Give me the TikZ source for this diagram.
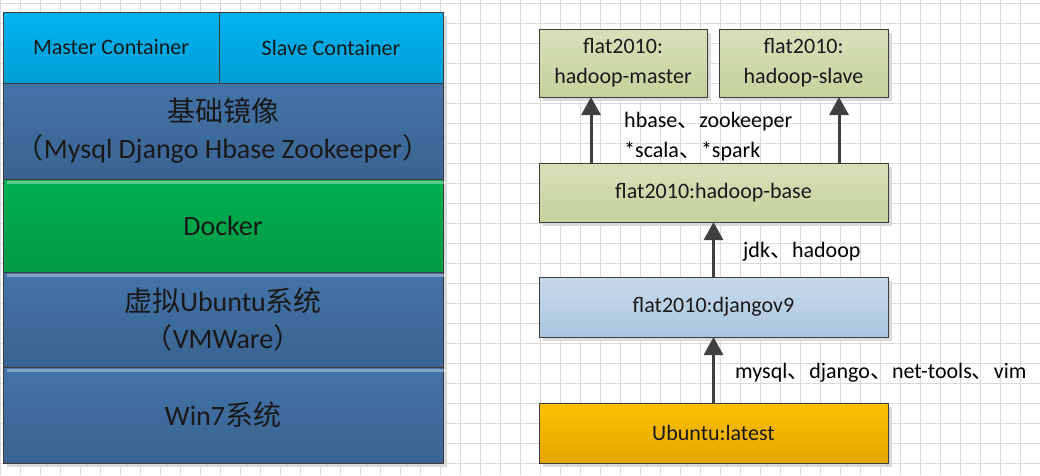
\documentclass[tikz,border=0pt]{standalone}
\usepackage{fontspec}
\setmainfont{Carlito}
\newfontfamily\cjk{Noto Sans CJK SC}
\usepackage{tikz}
\usetikzlibrary{shadows}
\usetikzlibrary{arrows.meta}
\newcommand\zh[1]{{\cjk #1}}

\definecolor{gridgray}{HTML}{DADADA}
\definecolor{edgegray}{HTML}{3C3C3C}
\definecolor{arrgray}{HTML}{404040}
\definecolor{cyantop}{HTML}{00B4F0}
\definecolor{cyanbot}{HTML}{009ED5}
\definecolor{bluetop}{HTML}{4474A8}
\definecolor{bluebot}{HTML}{3A6391}
\definecolor{greentop}{HTML}{00B050}
\definecolor{greenbot}{HTML}{009A45}
\definecolor{olivetop}{HTML}{D8E0BB}
\definecolor{olivebot}{HTML}{C5D19C}
\definecolor{skytop}{HTML}{C7DAEB}
\definecolor{skybot}{HTML}{AAC6DF}
\definecolor{ambertop}{HTML}{FDC100}
\definecolor{amberbot}{HTML}{E3A700}

\tikzset{
  layer/.style={draw=edgegray,line width=0.9pt,anchor=north west,inner sep=0pt,outer sep=0pt,
    align=center,text=black!90,
    drop shadow={fill=black!15,opacity=1,shadow xshift=4pt,shadow yshift=-4pt}},
  bigtext/.style={font=\fontsize{28}{37}\selectfont},
  smalltext/.style={font=\fontsize{22}{30}\selectfont},
  stripe/.style={fill=white,opacity=0.35},
  imgbox/.style={layer,smalltext,minimum height=60pt},
  dep/.style={draw=arrgray,line width=3pt,-{Triangle[width=19pt,length=18pt]}},
}

\begin{document}
\begin{tikzpicture}[x=1pt,y=-1pt]
            \useasboundingbox (0,0) rectangle (1040,475);
            \fill[white] (0,0) rectangle (1040,475);
            % grid
            \foreach \gx in {0,20,...,1040} {
                \draw[gridgray,line width=1pt] (\gx,0) -- (\gx,475);
            }
            \foreach \gy in {3,23,...,475} {
                \draw[gridgray,line width=1pt] (0,\gy) -- (1040,\gy);
            }

            % left stack
            \node[layer,smalltext,minimum width=216pt,minimum height=71pt,top color=cyantop,bottom color=cyanbot] (master) at (3,12) {Master Container};
            \node[layer,smalltext,minimum width=224pt,minimum height=71pt,top color=cyantop,bottom color=cyanbot] (slave) at (219,12) {Slave Container};
            \node[layer,bigtext,minimum width=440pt,minimum height=96pt,top color=bluetop,bottom color=bluebot] (base) at (3,83) {\zh{基础镜像}\\\zh{（}Mysql Django Hbase Zookeeper\zh{）}};
            \node[layer,bigtext,minimum width=440pt,minimum height=93pt,top color=greentop,bottom color=greenbot] (docker) at (3,179) {Docker};
            \node[layer,bigtext,minimum width=440pt,minimum height=95pt,top color=bluetop,bottom color=bluebot] (vm) at (3,272) {\zh{虚拟}Ubuntu\zh{系统}\\\zh{（}VMWare\zh{）}};
            \node[layer,bigtext,minimum width=440pt,minimum height=96pt,top color=bluetop,bottom color=bluebot] (win) at (3,367) {Win7\zh{系统}};
            \foreach \row in {docker,vm,win} {
                \fill[stripe] ([xshift=4pt,yshift=-1.5pt]\row.north west) rectangle ([xshift=4pt,yshift=-4.5pt]\row.north east);
            }

            % right side: images
            \node[imgbox,minimum width=168pt,minimum height=68pt,top color=olivetop,bottom color=olivebot] (hmaster) at (539,29) {flat2010:\\hadoop-master};
            \node[imgbox,minimum width=169pt,minimum height=68pt,top color=olivetop,bottom color=olivebot] (hslave) at (719,29) {flat2010:\\hadoop-slave};
            \node[imgbox,minimum width=349pt,minimum height=59pt,top color=olivetop,bottom color=olivebot] (hbase) at (539,163) {flat2010:hadoop-base};
            \node[imgbox,minimum width=349pt,top color=skytop,bottom color=skybot] (django) at (539,277) {flat2010:djangov9};
            \node[imgbox,minimum width=349pt,top color=ambertop,bottom color=amberbot] (ubuntu) at (539,403) {Ubuntu:latest};

            \draw[dep] ([xshift=52pt]hbase.north west) -- ([xshift=52pt]hmaster.south west);
            \draw[dep] ([xshift=300pt]hbase.north west) -- ([xshift=120pt]hslave.south west);
            \draw[dep] (django.north) -- (hbase.south);
            \draw[dep] (ubuntu.north) -- (django.south);

            \node[smalltext,anchor=west,align=left,inner sep=0pt] (addhadoop) at (624,137) {hbase\zh{、}zookeeper\\*scala\zh{、}*spark};
            \node[smalltext,anchor=west,inner sep=0pt] (addjdk) at (743,252) {jdk\zh{、}hadoop};
            \node[smalltext,anchor=west,inner sep=0pt] (addmysql) at (735,373) {mysql\zh{、}django\zh{、}net-tools\zh{、}vim};
        \end{tikzpicture}
\end{document}
